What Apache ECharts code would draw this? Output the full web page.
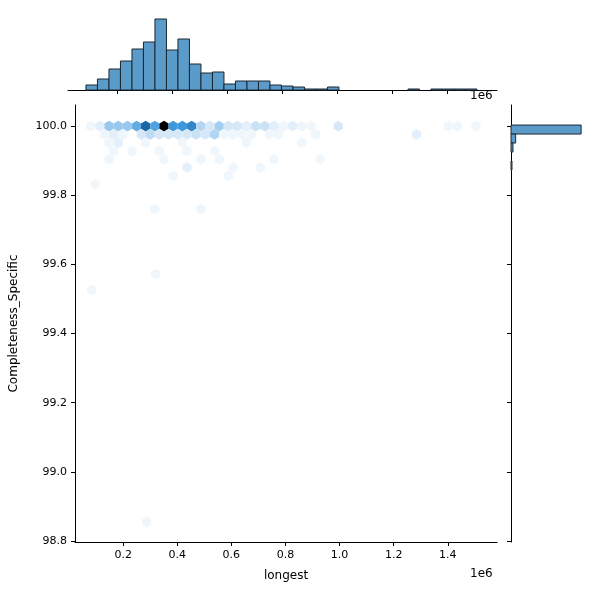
<!DOCTYPE html>
<html><head><meta charset="utf-8">
<script src="https://cdn.jsdelivr.net/npm/echarts@6/dist/echarts.min.js"></script>
<style>html,body{margin:0;background:#fff}#c{width:600px;height:600px}</style>
</head><body><div id="c"></div>
<script>
// top marginal histogram (x in units of 1e6)
var xBinStart = 0.0873;
var xBinWidth = 0.04182;
var xCounts = [5, 11, 21, 29, 41, 48, 71, 40, 51, 26, 17, 18, 6, 9, 9, 9, 5, 4, 3, 1, 1, 3,
    0, 0, 0, 0, 0, 0, 1, 0, 1, 1, 1, 1];

// right marginal histogram
var yBinTop = 100.003;
var yBinWidth = 0.026;
var yCounts = [71, 4.7, 2, 0, 1];

// hexbin cells: x (1e6), y, count
var hexX = [0.080, 0.114, 0.148, 0.182, 0.216, 0.250, 0.283, 0.317, 0.351, 0.385, 0.419, 0.453, 0.487, 0.521, 0.555, 0.589, 0.622, 0.656, 0.690, 0.724, 0.758, 0.792, 0.826, 0.860, 0.894, 0.995, 1.402, 1.436, 1.504,
    0.131, 0.165, 0.199, 0.267, 0.300, 0.334, 0.368, 0.402, 0.436, 0.470, 0.504, 0.538, 0.572, 0.606, 0.639, 0.673, 0.741, 0.775, 0.911, 1.284,
    0.148, 0.182, 0.283, 0.419, 0.656, 0.860,
    0.165, 0.233, 0.334, 0.436, 0.538,
    0.148, 0.351, 0.487, 0.555, 0.758, 0.928,
    0.436, 0.606, 0.707,
    0.385, 0.589,
    0.097,
    0.317, 0.487,
    0.320, 0.084, 0.287];
var hexY = [100, 100, 100, 100, 100, 100, 100, 100, 100, 100, 100, 100, 100, 100, 100, 100, 100, 100, 100, 100, 100, 100, 100, 100, 100, 100, 100, 100, 100,
    99.976, 99.976, 99.976, 99.976, 99.976, 99.976, 99.976, 99.976, 99.976, 99.976, 99.976, 99.976, 99.976, 99.976, 99.976, 99.976, 99.976, 99.976, 99.976, 99.976,
    99.952, 99.952, 99.952, 99.952, 99.952, 99.952,
    99.928, 99.928, 99.928, 99.928, 99.928,
    99.904, 99.904, 99.904, 99.904, 99.904, 99.904,
    99.88, 99.88, 99.88,
    99.856, 99.856,
    99.832,
    99.76, 99.76,
    99.572, 99.526, 98.855];
var hexCount = [1, 2, 8, 8, 8, 14, 30, 16, 40, 18, 18, 22, 6, 3, 7, 3, 3, 2, 4, 4, 2, 1, 2, 1, 1, 3, 1, 1, 1,
    1, 2, 1, 3, 5, 3, 3, 3, 3, 4, 3, 6, 1, 1, 1, 1, 1, 1, 1, 2,
    1, 2, 1, 1, 1, 1,
    1, 1, 1, 1, 1,
    1, 1, 1, 1, 1, 1,
    2, 1, 1,
    1, 1,
    1,
    1, 1,
    1, 1, 1];

var xMin = 0.022, xMax = 1.582;
var yMin = 98.797, yMax = 100.061;
var xTicks = [0.2, 0.4, 0.6, 0.8, 1.0, 1.2, 1.4];
var yTicks = [98.8, 99.0, 99.2, 99.4, 99.6, 99.8, 100.0];
var hexStep = 0.0339;

var stops = [[1, [239, 246, 252]], [3, [214, 232, 247]], [8, [152, 200, 238]], [18, [63, 152, 220]], [30, [27, 102, 163]], [40, [0, 0, 0]]];
function hexColor(c) {
    for (var i = 1; i < stops.length; i++) {
        if (c <= stops[i][0]) {
            var a = stops[i - 1], b = stops[i];
            var t = Math.max(0, (c - a[0]) / (b[0] - a[0]));
            var rgb = a[1].map(function (v, k) { return Math.round(v + (b[1][k] - v) * t); });
            return 'rgb(' + rgb.join(',') + ')';
        }
    }
    return '#000';
}

var font = 'DejaVu Sans';
var lineStyle = { color: '#000', width: 1 };
var barFill = '#5a9bc9';
var chart = echarts.init(document.getElementById('c'));

var hexData = hexX.map(function (x, i) { return [x, hexY[i], hexCount[i]]; });
var topData = xCounts.map(function (c, i) { return [xBinStart + i * xBinWidth, xBinStart + (i + 1) * xBinWidth, c]; });
var rightData = yCounts.map(function (c, i) { return [yBinTop - (i + 1) * yBinWidth, yBinTop - i * yBinWidth, c]; });

chart.setOption({
    animation: false,
    grid: [
        { left: 68, right: 103, top: 105, bottom: 58 },
        { left: 68, right: 103, top: 10, height: 80 },
        { left: 511, right: 10, top: 105, bottom: 58 }
    ],
    xAxis: [
        { gridIndex: 0, type: 'value', min: xMin, max: xMax, name: 'longest', nameLocation: 'middle', nameGap: 28,
          nameTextStyle: { fontFamily: font, fontSize: 12, color: '#000' },
          splitLine: { show: false }, axisLine: { lineStyle: lineStyle },
          axisTick: { show: true, length: 4, lineStyle: lineStyle, customValues: xTicks },
          axisLabel: { fontFamily: font, fontSize: 11, color: '#000', customValues: xTicks, formatter: function (v) { return v.toFixed(1); } } },
        { gridIndex: 1, type: 'value', min: xMin, max: xMax, splitLine: { show: false }, axisLine: { lineStyle: lineStyle },
          axisTick: { show: true, length: 4, lineStyle: lineStyle, customValues: xTicks }, axisLabel: { show: false } },
        { gridIndex: 2, type: 'value', min: 0, max: 80, show: false }
    ],
    yAxis: [
        { gridIndex: 0, type: 'value', min: yMin, max: yMax, name: 'Completeness_Specific', nameLocation: 'middle', nameGap: 55,
          nameTextStyle: { fontFamily: font, fontSize: 12, color: '#000' },
          splitLine: { show: false }, axisLine: { lineStyle: lineStyle },
          axisTick: { show: true, length: 4, lineStyle: lineStyle, customValues: yTicks },
          axisLabel: { fontFamily: font, fontSize: 11, color: '#000', customValues: yTicks, formatter: function (v) { return v.toFixed(1); } } },
        { gridIndex: 1, type: 'value', min: 0, max: 80, show: false },
        { gridIndex: 2, type: 'value', min: yMin, max: yMax, splitLine: { show: false }, axisLine: { lineStyle: lineStyle },
          axisTick: { show: true, length: 4, lineStyle: lineStyle, customValues: yTicks }, axisLabel: { show: false } }
    ],
    graphic: [
        { type: 'text', left: 470, top: 568, style: { text: '1e6', font: '12px "DejaVu Sans"', fill: '#000' } },
        { type: 'text', left: 470, top: 90, style: { text: '1e6', font: '12px "DejaVu Sans"', fill: '#000' } }
    ],
    series: [
        { type: 'custom', xAxisIndex: 0, yAxisIndex: 0, data: hexData, clip: true,
          renderItem: function (params, api) {
              var c = api.coord([api.value(0), api.value(1)]);
              var w = api.coord([api.value(0) + hexStep, api.value(1)])[0] - c[0];
              var r = w / Math.sqrt(3);
              var pts = [];
              for (var k = 0; k < 6; k++) {
                  var a = Math.PI / 3 * k + Math.PI / 2;
                  pts.push([c[0] + r * Math.cos(a), c[1] + r * Math.sin(a)]);
              }
              return { type: 'polygon', shape: { points: pts }, style: { fill: hexColor(api.value(2)) } };
          } },
        { type: 'custom', xAxisIndex: 1, yAxisIndex: 1, data: topData,
          renderItem: function (params, api) {
              var p0 = api.coord([api.value(0), 0]);
              var p1 = api.coord([api.value(1), api.value(2)]);
              if (api.value(2) <= 0) return null;
              return { type: 'rect', shape: { x: p0[0], y: p1[1], width: p1[0] - p0[0], height: p0[1] - p1[1] },
                       style: { fill: barFill, stroke: '#1c2833', lineWidth: 1 } };
          } },
        { type: 'custom', xAxisIndex: 2, yAxisIndex: 2, data: rightData,
          renderItem: function (params, api) {
              var p0 = api.coord([0, api.value(1)]);
              var p1 = api.coord([api.value(2), api.value(0)]);
              if (api.value(2) <= 0) return null;
              return { type: 'rect', shape: { x: p0[0], y: p0[1], width: p1[0] - p0[0], height: p1[1] - p0[1] },
                       style: { fill: barFill, stroke: '#1c2833', lineWidth: 1 } };
          } }
    ]
});
</script>
</body></html>
